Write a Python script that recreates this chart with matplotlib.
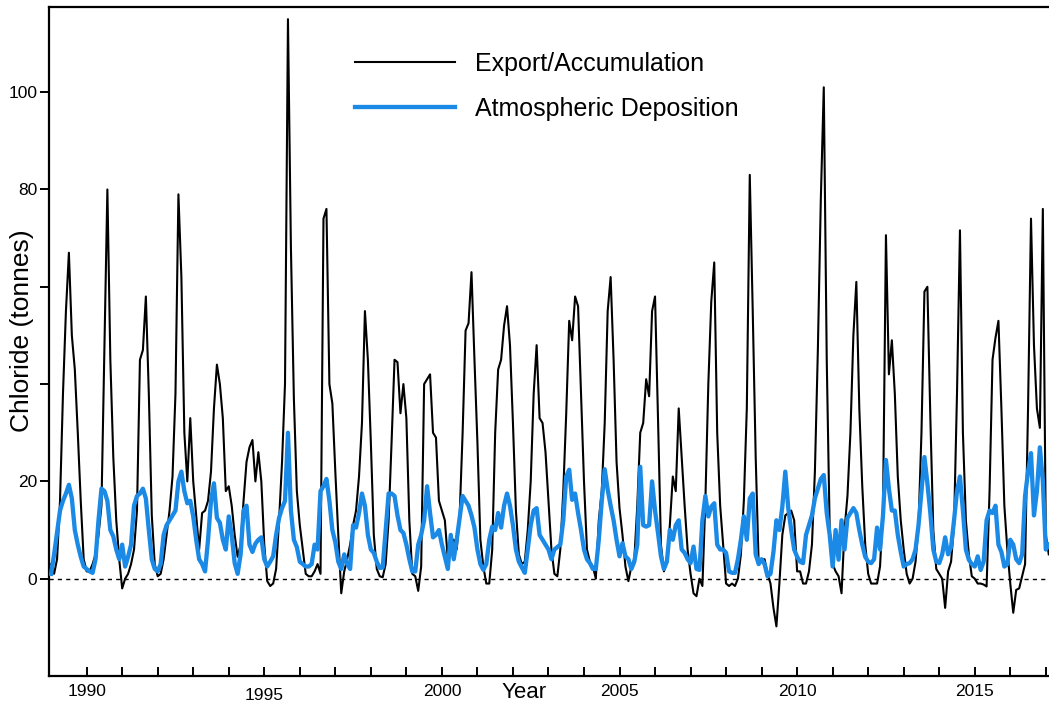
import numpy as np
import matplotlib
matplotlib.use("Agg")
import matplotlib.pyplot as plt
from matplotlib.ticker import FixedLocator
from matplotlib.transforms import ScaledTranslation

plt.rcParams['font.family'] = ['Liberation Sans', 'DejaVu Sans']

# ==== DATA (monthly, starting Jan 1989) ====
START_YEAR = 1989

export_acc = [
    3, 1, 4, 16, 38, 55, 67, 50, 43, 30, 16, 4,            # 1989
    1.5, 1.5, 3, 5, 9, 15, 48, 80, 45, 25, 12, 4,          # 1990
    -2, 0, 1, 3, 6, 14, 45, 47, 58, 38, 13, 3,             # 1991
    0.5, 1, 4, 9, 14, 21, 38, 79, 62, 30, 20, 33,          # 1992
    20, 13, 6, 13.5, 14, 16, 22, 35, 44, 40, 33, 18,       # 1993
    19, 15, 9, 4.5, 7, 16, 24, 27, 28.5, 20, 26, 20,       # 1994
    7, -0.5, -1.5, -1, 2, 12, 24, 40, 115, 68, 37, 18,     # 1995
    11, 6, 1, 0.5, 0.5, 1.5, 3, 1, 74, 76, 40, 36,         # 1996
    22, 9, -3, 1.5, 4, 7, 11, 14, 21, 32, 55, 45,          # 1997
    28, 9, 2, 0.5, 0.3, 3, 12, 28, 45, 44.5, 34, 40,       # 1998
    33, 12, 1, 0.5, -2.5, 2.5, 40, 41, 42, 30, 29, 16,     # 1999
    14, 12, 4, 8, 8, 6, 13, 30, 51, 52.5, 63, 45,          # 2000
    28, 8, 2.5, -1, -1, 6, 30, 43, 45, 52, 56, 48,         # 2001
    32, 14, 5, 3, 3.5, 10, 20, 38, 48, 33, 32, 26,         # 2002
    16, 6, 1, 0.5, 6, 18, 34, 53, 49, 58, 56, 38,          # 2003
    20, 6, 3.5, 2.5, 0, 12, 18, 32, 55, 62, 45, 24,        # 2004
    14.5, 9, 2.5, -0.5, 2.5, 4, 15, 30, 32, 41, 37.5, 55,  # 2005
    58, 33, 7, 1.5, 3.5, 11, 21, 18, 35, 25, 15, 6,        # 2006
    1, -3, -3.6, 0, -1.5, 16, 40, 57, 65, 30, 15, 7,       # 2007
    -1, -1.5, -1, -1.5, 0, 5, 16, 35, 83, 55, 25, 3,       # 2008
    4, 4, 1, -1, -6, -9.8, -1, 9, 13, 13.5, 14, 12,        # 2009
    1.5, 1.5, -1, -1, 1.5, 7, 22, 47, 78, 101, 45, 10,     # 2010
    3, 1.5, 0.5, -3, 10, 17, 30, 50, 61, 35, 19, 7,        # 2011
    1, -1, -1, -1, 2.5, 14, 70.6, 42, 49, 38, 21, 12,      # 2012
    6, 1, -1, 0, 3.5, 11, 30, 59, 60, 33, 10, 2,           # 2013
    1, 0, -6, 1.5, 3.5, 11, 38, 71.6, 30, 12, 5, 0.5,      # 2014
    0, -1, -1, -1.2, -1.6, 18, 45, 49.5, 53, 35, 15, 6,    # 2015
    -1, -7, -2.3, -2, 0.5, 3, 35, 74, 48, 35, 31, 76,      # 2016
    9, 5,                                                  # 2017
]

atm_dep = [
    1, 5, 9.5, 14, 16, 17.5, 19.3, 16.5, 10, 7, 4.5, 2.5,      # 1989
    2, 1.5, 1.2, 4, 12, 18.5, 18, 16, 10, 8.7, 6, 4,           # 1990
    7, 2.5, 4.5, 7, 15, 17, 17.5, 18.5, 16.5, 10, 4, 2,        # 1991
    1.5, 3, 9, 11, 12, 13, 14, 20, 22, 18, 15.5, 16,           # 1992
    12.8, 8, 4, 3, 1.5, 8, 16, 19.6, 12.5, 11.5, 8, 6,         # 1993
    12.8, 9, 3.2, 1, 5, 14, 15, 7, 5.5, 7.2, 8, 8.5,           # 1994
    4, 2.5, 3.5, 4.6, 9, 12.5, 14.5, 16, 30, 14, 8, 6.5,       # 1995
    3.5, 3, 2.5, 2.5, 3, 7, 6, 18, 19, 20.5, 16, 10,           # 1996
    7.5, 3.5, 2, 5, 3, 2, 11, 10.5, 13.5, 17.5, 15, 9,         # 1997
    6, 5.3, 3.5, 2.2, 2.3, 10, 17.5, 17.5, 17, 13, 10, 9.4,    # 1998
    7, 4, 1.5, 1.5, 7, 9, 12, 19, 13.5, 8.5, 9, 10,            # 1999
    7, 4.5, 2, 9, 4, 8, 12.5, 17, 16, 15, 13, 10.5,            # 2000
    6, 3, 1.8, 3, 8, 10.7, 10, 13.5, 10.5, 15, 17.5, 15,       # 2001
    11, 6, 3.5, 2.3, 1.2, 6, 11, 14, 14.5, 9, 8, 7,            # 2002
    6, 4, 6, 6.5, 7, 12, 21, 22.4, 16.2, 17.5, 13.5, 10,       # 2003
    6, 4, 3.2, 2, 2, 8, 16, 22.5, 18.3, 15, 12, 8,             # 2004
    4.6, 7.3, 4.6, 4, 2, 3.5, 7, 23, 11, 10.7, 11, 20,         # 2005
    14, 9.4, 4.6, 2, 3.5, 10, 8, 11, 12, 6, 5.3, 4,            # 2006
    3.2, 6.6, 2, 1.8, 12, 17, 12.8, 14.8, 15.5, 7, 6, 6,       # 2007
    5.3, 1.5, 1.2, 1.2, 4, 8, 12.8, 8, 16.5, 17.5, 5, 3,       # 2008
    4, 3, 0.5, 1, 5.5, 12, 10, 14.8, 22, 14.5, 10, 6,          # 2009
    4.5, 3.5, 3.2, 9, 11, 13, 16.5, 18.5, 20.5, 21.3, 13.5, 9, # 2010
    2.5, 10, 3.9, 12, 6, 12.5, 13.5, 14.5, 13.5, 10, 7, 4.5,   # 2011
    3.5, 3.2, 4, 10.5, 6, 13, 24.4, 18.5, 14, 14, 9, 5.5,      # 2012
    2.5, 3, 3.2, 4, 6, 11, 18, 25, 19.6, 13.5, 6, 3.5,         # 2013
    3.2, 5, 8.5, 5, 6.5, 12, 18, 21, 14, 6, 3.9, 3,            # 2014
    2.5, 4.6, 1.8, 3.5, 12, 14, 13.5, 15, 7, 5.5, 2.5, 3,      # 2015
    8, 7, 4, 3.2, 5, 17, 22, 25.8, 13, 18, 27, 20,             # 2016
    6, 7,                                                      # 2017
]

year_labels = [1990, 1995, 2000, 2005, 2010, 2015]
year_ticks = list(range(1990, 2018))
y_ticks = [0, 20, 40, 60, 80, 100]
# 40 and 60 carry no label in the original (axis title sits there)
y_tick_labels = ["0", "20", "", "", "80", "100"]
# ===========================================

t = START_YEAR + np.arange(len(export_acc)) / 12.0

fig = plt.figure(figsize=(10.49, 7.06), dpi=100)
ax = fig.add_axes([49/1049, 30/706, 1000/1049, 669/706])

ax.axhline(0, color="black", lw=1.0, ls=(0, (3, 3)), zorder=1)
ax.plot(t, export_acc, color="black", lw=1.5, label="Export/Accumulation", zorder=2)
ax.plot(t, atm_dep, color="#1a8ae6", lw=3.1, label="Atmospheric Deposition", zorder=3)

ax.set_xlim(1988.94, 2017.09)
ax.set_ylim(-20, 117.5)

ax.spines["right"].set_visible(False)
for s in ["left", "top", "bottom"]:
    ax.spines[s].set_linewidth(1.6)

ax.xaxis.set_major_locator(FixedLocator(year_labels))
ax.xaxis.set_minor_locator(FixedLocator(year_ticks))
ax.tick_params(axis="x", which="both", direction="in", length=6.5, width=1.4,
               labelsize=12.5, pad=6, top=False)
ax.set_yticks(y_ticks)
ax.set_yticklabels(y_tick_labels)
ax.tick_params(axis="y", direction="out", length=6.5, width=1.4, labelsize=12.5, pad=2)

# the 1995 label sits a little lower in the original
for lab in ax.get_xticklabels():
    if lab.get_text() == "1995":
        lab.set_transform(lab.get_transform() + ScaledTranslation(0, -2.5/72, fig.dpi_scale_trans))

# axis titles
fig.text(22/1049, 1 - 331/706, "Chloride (tonnes)", rotation=90, fontsize=19,
         ha="center", va="center")
ax.text(0.475, -0.024, "Year", transform=ax.transAxes, fontsize=16,
        ha="center", va="center")

ax.legend(loc="upper left", bbox_to_anchor=(0.306, 0.9325), frameon=False,
          fontsize=18, handlelength=4.0, handletextpad=0.8,
          labelspacing=0.84, borderpad=0, borderaxespad=0)

fig.savefig("out.png", dpi=100)
